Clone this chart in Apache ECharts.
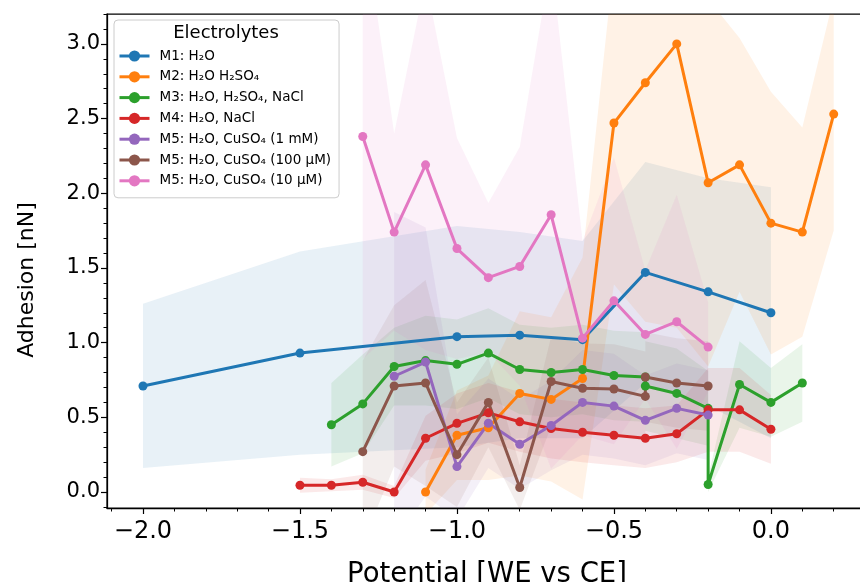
<!DOCTYPE html>
<html>
<head>
<meta charset="utf-8">
<script src="https://cdn.jsdelivr.net/npm/echarts@6/dist/echarts.min.js"></script>
<style>html,body{margin:0;padding:0;background:#fff}#c{width:860px;height:582px}</style>
</head>
<body>
<div id="c"></div>
<script>
// ---- data ----
const names = ['M1: H\u2082O', 'M2: H\u2082O H\u2082SO\u2084', 'M3: H\u2082O, H\u2082SO\u2084, NaCl', 'M4: H\u2082O, NaCl',
  'M5: H\u2082O, CuSO\u2084 (1 mM)', 'M5: H\u2082O, CuSO\u2084 (100 \u00b5M)', 'M5: H\u2082O, CuSO\u2084 (10 \u00b5M)'];
const colors = ['#1f77b4', '#ff7f0e', '#2ca02c', '#d62728', '#9467bd', '#8c564b', '#e377c2'];

const x1 = [-2.0, -1.5, -1.0, -0.8, -0.6, -0.4, -0.2, 0.0];
const y1 = [0.71, 0.93, 1.04, 1.05, 1.02, 1.47, 1.34, 1.20];
const s1 = [0.55, 0.68, 0.74, 0.69, 0.66, 0.74, 0.76, 0.84];

const x2 = [-1.1, -1.0, -0.9, -0.8, -0.7, -0.6, -0.5, -0.4, -0.3, -0.2, -0.1, 0.0, 0.1, 0.2];
const y2 = [0.0, 0.38, 0.43, 0.66, 0.62, 0.76, 2.47, 2.74, 3.0, 2.07, 2.19, 1.80, 1.74, 2.53];
const s2 = [0.15, 0.3, 0.35, 0.55, 0.55, 0.81, 1.08, 1.6, 1.9, 1.23, 0.85, 0.88, 0.70, 0.78];

const x3 = [-1.4, -1.3, -1.2, -1.1, -1.0, -0.9, -0.8, -0.7, -0.6, -0.5, -0.4, -0.4, -0.3, -0.2, -0.2, -0.1, 0.0, 0.1];
const y3 = [0.45, 0.59, 0.84, 0.88, 0.855, 0.93, 0.82, 0.80, 0.82, 0.78, 0.77, 0.71, 0.66, 0.56, 0.05, 0.72, 0.60, 0.73];
const s3 = [0.28, 0.33, 0.26, 0.3, 0.3, 0.3, 0.3, 0.3, 0.3, 0.3, 0.3, 0.3, 0.3, 0.25, 0.05, 0.29, 0.23, 0.26];

const x4 = [-1.5, -1.4, -1.3, -1.2, -1.1, -1.0, -0.9, -0.8, -0.7, -0.6, -0.5, -0.4, -0.3, -0.2, -0.1, 0.0];
const y4 = [0.045, 0.045, 0.065, 0.0, 0.36, 0.46, 0.53, 0.47, 0.425, 0.40, 0.38, 0.36, 0.39, 0.55, 0.55, 0.42];
const s4 = [0.05, 0.04, 0.05, 0.04, 0.15, 0.2, 0.2, 0.2, 0.2, 0.2, 0.2, 0.2, 0.19, 0.28, 0.28, 0.23];

const x5 = [-1.2, -1.1, -1.0, -0.9, -0.8, -0.7, -0.6, -0.5, -0.4, -0.3, -0.2];
const y5 = [0.775, 0.87, 0.17, 0.46, 0.32, 0.445, 0.60, 0.575, 0.48, 0.56, 0.515];
const s5 = [1.1, 0.9, 0.35, 0.3, 0.3, 0.3, 0.35, 0.35, 0.3, 0.3, 0.3];

const x6 = [-1.3, -1.2, -1.1, -1.0, -0.9, -0.8, -0.7, -0.6, -0.5, -0.4, -0.4, -0.3, -0.2];
const y6 = [0.27, 0.71, 0.73, 0.25, 0.60, 0.03, 0.74, 0.695, 0.69, 0.64, 0.77, 0.73, 0.71];
const s6 = [0.61, 0.54, 0.69, 0.35, 0.3, 0.15, 0.3, 0.3, 0.3, 0.3, 0.3, 0.3, 0.3];

const x7 = [-1.3, -1.2, -1.1, -1.0, -0.9, -0.8, -0.7, -0.6, -0.5, -0.4, -0.3, -0.2];
const y7 = [2.38, 1.74, 2.19, 1.63, 1.435, 1.51, 1.856, 1.03, 1.28, 1.055, 1.14, 0.97];
const s7 = [1.49, 0.66, 1.24, 0.74, 0.50, 0.80, 1.70, 0.65, 0.96, 0.43, 0.85, 0.30];

const xMajor = [-2.0, -1.5, -1.0, -0.5, 0.0];
const xMinor = [-2.1, -2.0, -1.9, -1.8, -1.7, -1.6, -1.5, -1.4, -1.3, -1.2, -1.1, -1.0, -0.9, -0.8, -0.7, -0.6, -0.5, -0.4, -0.3, -0.2, -0.1, 0.0, 0.1, 0.2, 0.3];
const yMajor = [0.0, 0.5, 1.0, 1.5, 2.0, 2.5, 3.0];
const yMinor = [-0.1, 0.0, 0.1, 0.2, 0.3, 0.4, 0.5, 0.6, 0.7, 0.8, 0.9, 1.0, 1.1, 1.2, 1.3, 1.4, 1.5, 1.6, 1.7, 1.8, 1.9, 2.0, 2.1, 2.2, 2.3, 2.4, 2.5, 2.6, 2.7, 2.8, 2.9, 3.0, 3.1, 3.2];

const xTitle = 'Potential [WE vs CE]';
const yTitle = 'Adhesion [nN]';
const legendTitle = 'Electrolytes';

// ---- build ----
const groups = [[x1, y1, s1], [x2, y2, s2], [x3, y3, s3], [x4, y4, s4], [x5, y5, s5], [x6, y6, s6], [x7, y7, s7]];
const FONT = 'DejaVu Sans';

function hexA(hex, a) {
  const r = parseInt(hex.slice(1, 3), 16), g = parseInt(hex.slice(3, 5), 16), b = parseInt(hex.slice(5, 7), 16);
  return 'rgba(' + r + ',' + g + ',' + b + ',' + a + ')';
}

const series = [];
groups.forEach(function (g, k) {
  const xs = g[0], ys = g[1], sd = g[2];
  series.push({
    type: 'custom', name: 'band' + k, silent: true, clip: true, z: 1,
    data: [[xs[0], ys[0]]],
    renderItem: function (params, api) {
      const pts = [];
      for (let i = 0; i < xs.length; i++) pts.push(api.coord([xs[i], ys[i] + sd[i]]));
      for (let i = xs.length - 1; i >= 0; i--) pts.push(api.coord([xs[i], ys[i] - sd[i]]));
      const cs = params.coordSys;
      return {
        type: 'polygon', shape: { points: pts },
        style: { fill: hexA(colors[k], 0.1), stroke: null },
        clipPath: { type: 'rect', shape: { x: cs.x, y: cs.y, width: cs.width, height: cs.height } }
      };
    }
  });
});
groups.forEach(function (g, k) {
  const xs = g[0], ys = g[1];
  series.push({
    type: 'line', name: names[k], z: 3,
    data: xs.map(function (x, i) { return [x, ys[i]]; }),
    symbol: 'circle', symbolSize: 9, showSymbol: true,
    lineStyle: { color: colors[k], width: 3 },
    itemStyle: { color: colors[k] },
    emphasis: { disabled: true }
  });
});

function fmtNum(v) { return (v < -1e-9 ? '\u2212' : '') + Math.abs(v).toFixed(1); }

const XMIN = -2.1146, XMAX = 0.306, YMIN = -0.107, YMAX = 3.2;
const axisLineStyle = { color: '#000', width: 1.25 };

const option = {
  animation: false,
  backgroundColor: '#fff',
  grid: { left: 107, top: 14, right: -7, bottom: 74, containLabel: false, outerBoundsMode: 'none',
    show: true, borderColor: '#000', borderWidth: 1.25, backgroundColor: 'transparent' },
  xAxis: [
    {
      type: 'value', min: XMIN, max: XMAX, position: 'bottom',
      name: xTitle, nameLocation: 'middle', nameGap: 53,
      nameTextStyle: { fontFamily: FONT, fontSize: 27.5, color: '#000' },
      axisLine: { show: true, onZero: false, lineStyle: axisLineStyle },
      axisTick: { show: true, inside: false, length: 6, lineStyle: { color: '#000', width: 1.2 }, customValues: xMajor },
      axisLabel: { show: true, margin: 12, fontFamily: FONT, fontSize: 24, color: '#000', customValues: xMajor, formatter: fmtNum },
      splitLine: { show: false }
    },
    {
      type: 'value', min: XMIN, max: XMAX, position: 'bottom',
      axisLine: { show: false, onZero: false },
      axisTick: { show: true, inside: false, length: 3.5, lineStyle: { color: '#000', width: 1 }, customValues: xMinor },
      axisLabel: { show: false },
      splitLine: { show: false }
    }
  ],
  yAxis: [
    {
      type: 'value', min: YMIN, max: YMAX, position: 'left',
      name: yTitle, nameLocation: 'middle', nameGap: 69, nameRotate: 90,
      nameTextStyle: { fontFamily: FONT, fontSize: 22, color: '#000', padding: [0, 38, 0, 0] },
      axisLine: { show: true, onZero: false, lineStyle: axisLineStyle },
      axisTick: { show: true, inside: false, length: 6, lineStyle: { color: '#000', width: 1.2 }, customValues: yMajor },
      axisLabel: { show: true, margin: 7, fontFamily: FONT, fontSize: 21, color: '#000', customValues: yMajor, formatter: fmtNum },
      splitLine: { show: false }
    },
    {
      type: 'value', min: YMIN, max: YMAX, position: 'left',
      axisLine: { show: false, onZero: false },
      axisTick: { show: true, inside: false, length: 3.5, lineStyle: { color: '#000', width: 1 }, customValues: yMinor },
      axisLabel: { show: false },
      splitLine: { show: false }
    }
  ],
  legend: {
    data: names, orient: 'vertical', left: 114, top: 20,
    padding: [29, 8, 10, 4], itemGap: 6.8, itemWidth: 30, itemHeight: 14,
    backgroundColor: 'rgba(255,255,255,0.85)', borderColor: '#cccccc', borderWidth: 1, borderRadius: 4,
    lineStyle: { width: 3 },
    textStyle: { fontFamily: FONT, fontSize: 13.5, color: '#000', padding: [0, 0, 0, 5] },
    selectedMode: false, z: 10
  },
  graphic: [{
    type: 'text', x: 226, y: 33, z: 100,
    style: { text: legendTitle, fontFamily: FONT, fontSize: 18, fill: '#000', textAlign: 'center', textVerticalAlign: 'middle' }
  }],
  series: series
};

const chart = echarts.init(document.getElementById('c'), null, { renderer: 'canvas' });
chart.setOption(option);
</script>
</body>
</html>
